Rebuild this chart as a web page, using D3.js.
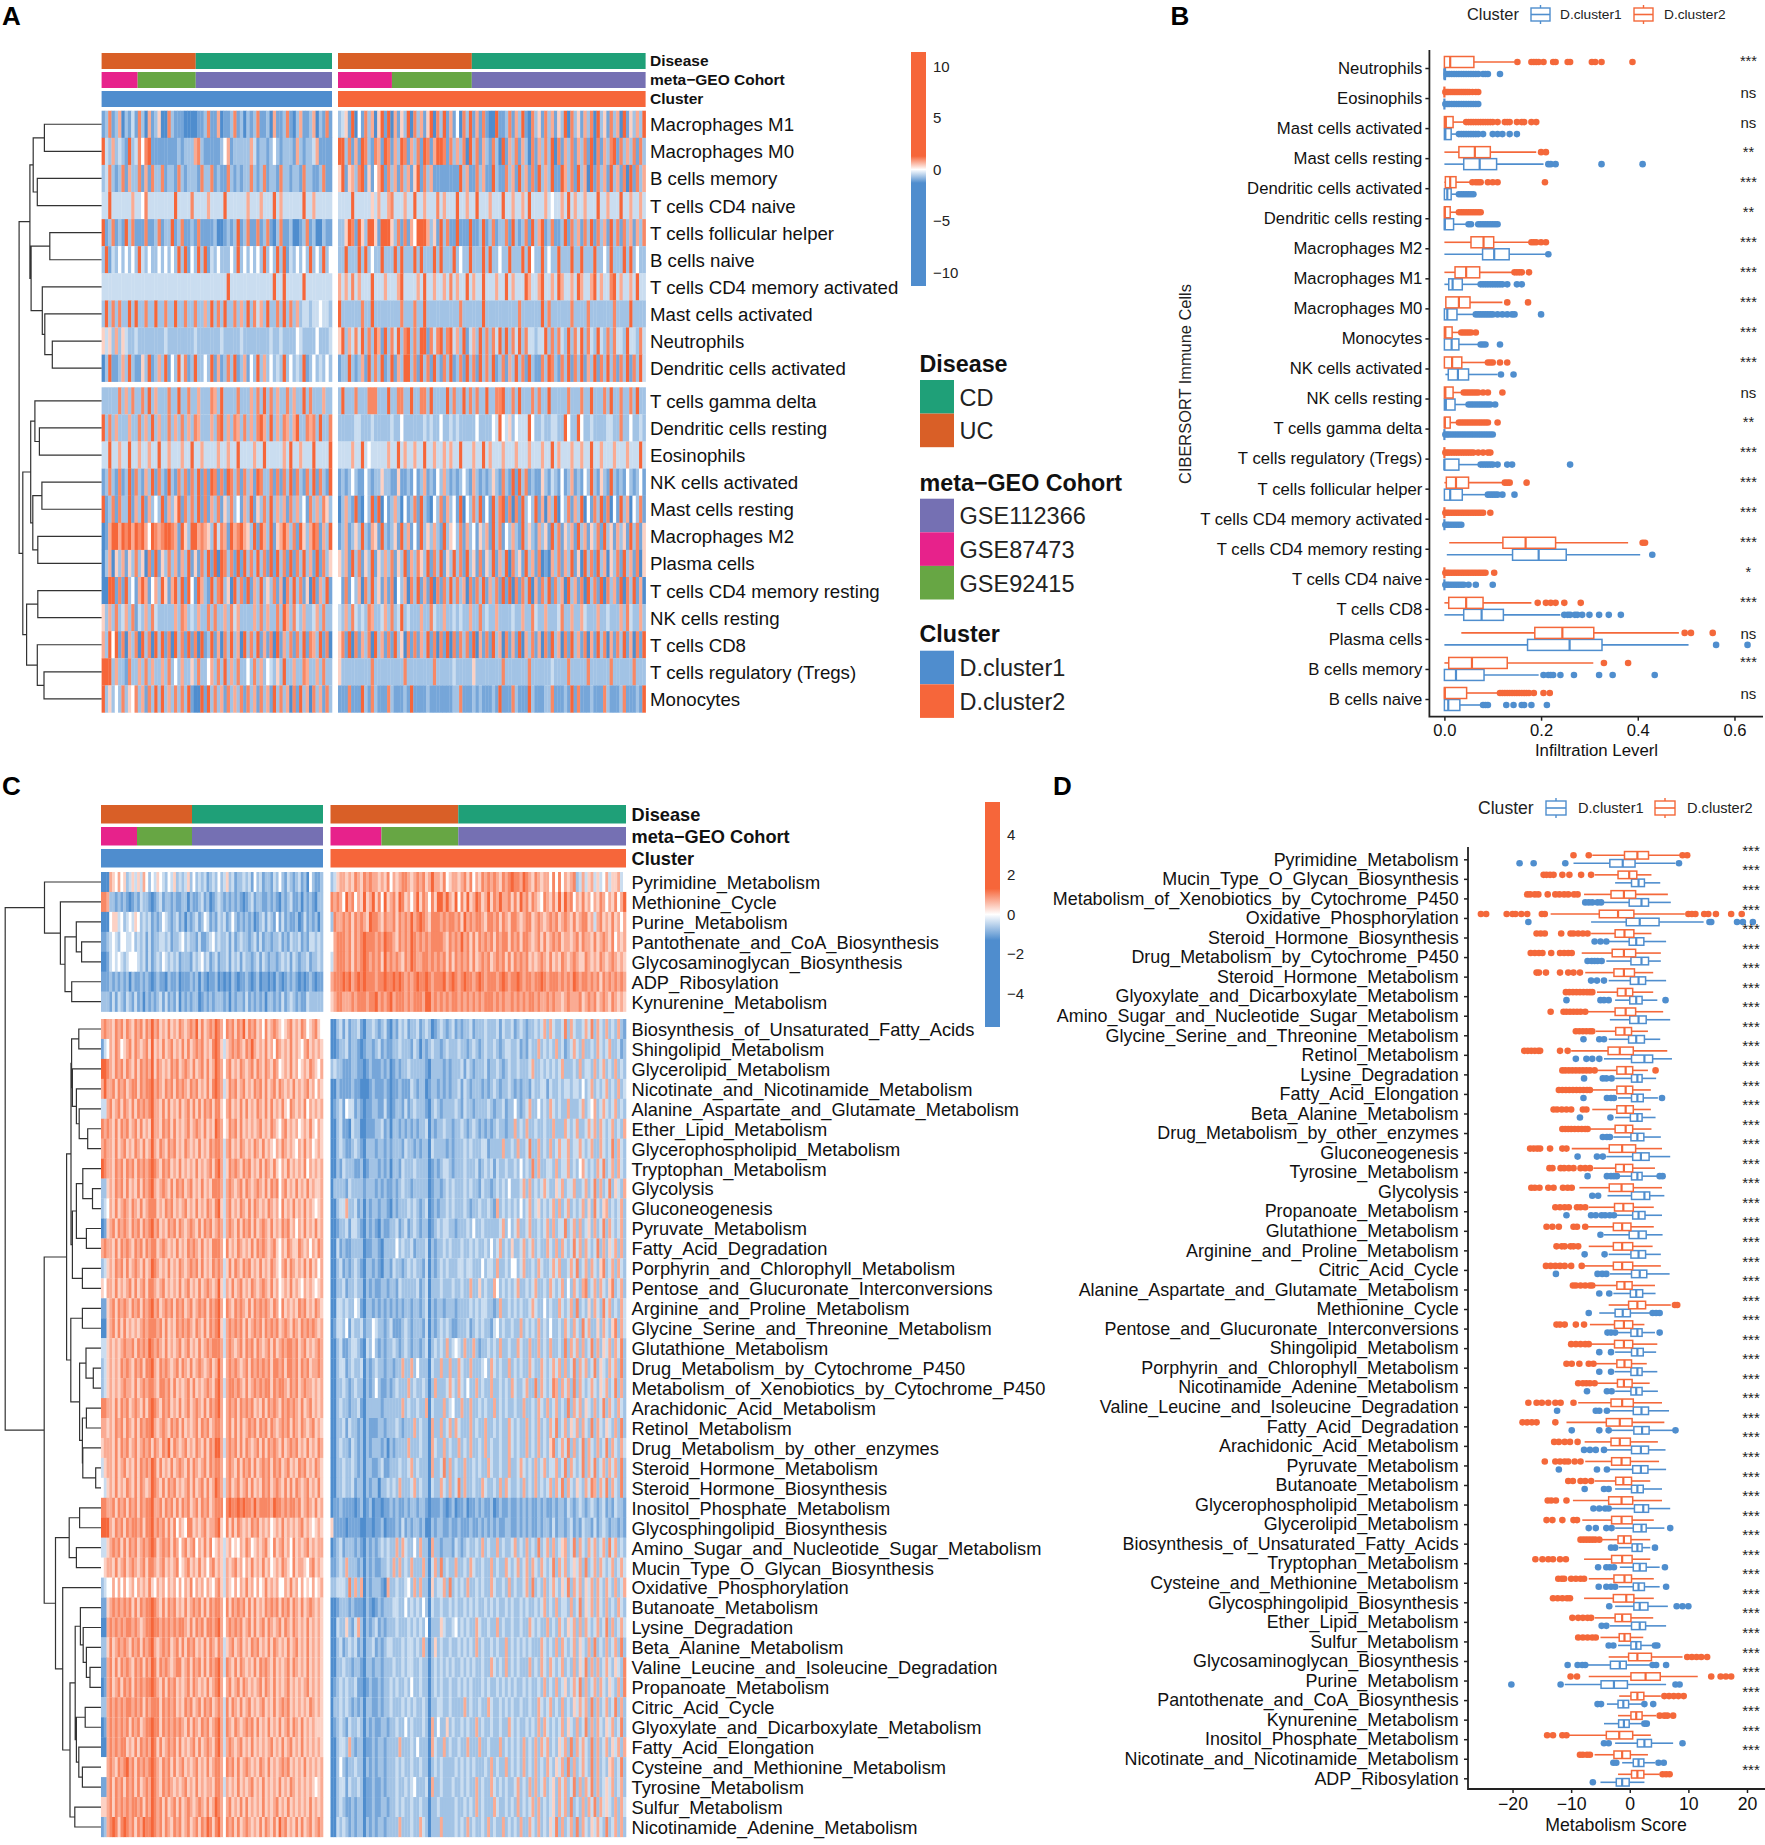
<!DOCTYPE html>
<html><head><meta charset="utf-8">
<script src="https://cdn.jsdelivr.net/npm/d3@7/dist/d3.min.js"></script>
<style>html,body{margin:0;background:#fff}svg{display:block;font-family:"Liberation Sans",Arial,sans-serif}</style>
</head><body><svg id="c" width="1765" height="1845" viewBox="0 0 1765 1845"></svg>
<script>
const COL_BLUE="#4F8DCE", COL_ORANGE="#F6663A";
const levels=[-1,-.78,-.53,-.3,0,.3,.55,.78,1];
const immuneHeatRows=["Macrophages M1","Macrophages M0","B cells memory","T cells CD4 naive","T cells follicular helper","B cells naive","T cells CD4 memory activated","Mast cells activated","Neutrophils","Dendritic cells activated","T cells gamma delta","Dendritic cells resting","Eosinophils","NK cells activated","Mast cells resting","Macrophages M2","Plasma cells","T cells CD4 memory resting","NK cells resting","T cells CD8","T cells regulatory (Tregs)","Monocytes"];
const heatA_L=[
"2382371324283172361183222111122382271223823132382231722382137223713282",
"9437343293485892222222232333783222223572333337423323532333273233472222",
"3483238273382728338233283233328338232283232338323823328332332833223822",
"4494444447445844444444944448444474444944444474447444947444444944744444",
"9238232938222822382339238223282222311232392382282382138223112382311322",
"3924353535394353353535393925393924353335393535353935393924353539353935",
"4444444444444444444444444444444444444494444444444444944944444944444444",
"3938383393933833933833933833833739383933837393847393383938373443445443",
"6463736433433333333433333333433333334333334333333334334333354333353334",
"1392237393226392373925394823933539272383923725393735343935343923534353",
"3333383738338393733383393383373338739333383337383938373383733938333733",
"9383733373383739373383738373873337389373873837389739373873793387839338",
"4494474494474474494474447449447444474474494444744944444749447444944449",
"2383282392832739283293283828392829828298382837298338282839283283928329",
"9238283392739273539273692838392827382638352739263839373728373528373863",
"1279979897989759878998729639978763948729789763929739267973829637982739",
"1371637263836182926383727392628392919838292938393829293829283937292836",
"1199282935279725739627939295297329389361938292739363827183938261927392",
"6373834738243738433333738734373383833738473333738373383973843733473833",
"7395928173819381939281938292819239271839371938392728192738283928739281",
"9993733283373837337383537336383357383937383353837354363933733873373833",
"9363538365837283939373838392119293837283738283728372938371829371837283"];
const heatA_R=[
"3462915283716929172639183726918392725183927282119223827392183628372639183627381936283719263739",
"9938272983287298273982738298279982837381938273283192738273182738391827382738291827389283738283",
"6926738926257928372837269283722222222937228372293228372937282937392297382937192837293728192837",
"4444944444647447844474494474448474449447449444744494474474944447454474947447444944744494474474",
"3369829639962999638282759997362938229222922392382338293238293792382239283728392837293828372738",
"3393339393533933393933393933393933393533933393933533933393953393533933393393339335393339393533",
"7474847444944474447944447494474474847449474494447449474449744794474974474974479474489474474944",
"9333333833933333333833383393333333333833333393333333333833333393833333383333833333338333393333",
"6937484938397293849389383992848938947392473938384939384938443449383843938493843943838443944384",
"2339323729383923927399382938293283923829382938392382739382932283983283928392739283938283928394",
"3933383338883339338833933883933339383393838339338893383933383833933333833383393338393383383933",
"3333344333433333433533333343433533434333335333354954635444953343344339533953343333443383353343",
"4444744945444447449474474494474474744944474494744474447444744474494744474474494474447444744494",
"2323532253233633226223252372325373232353273232363283292938232263243252372325393263293232532352",
"1373292153929152373152382932153827352915383925293892818293539271739153827391528392815293715382",
"2372363932762932362937252936373293653827352637293825373293632736293826372937263829362736293826",
"6372938263926373826392738639283926393829362826392739183629372812173827392619382937163829372816",
"5282537183936272815371839272918283938371828392738292918283917283928371937281938291837291839271",
"4373843438733473834934333733843373343433733834337333343373384337333483373374333733433373843373",
"6829182738193728293618282739281829182838291728293718272917382718293718293728172938172839271829",
"6333333333833333333383333333383333343333363333333383333333833333343333833333833333383333338333",
"2228222932832228322232922223222222233822232322232922283222932223382223292822232228322238222329"];
const heatRowsC=["Pyrimidine_Metabolism","Methionine_Cycle","Purine_Metabolism","Pantothenate_and_CoA_Biosynthesis","Glycosaminoglycan_Biosynthesis","ADP_Ribosylation","Kynurenine_Metabolism","Biosynthesis_of_Unsaturated_Fatty_Acids","Shingolipid_Metabolism","Glycerolipid_Metabolism","Nicotinate_and_Nicotinamide_Metabolism","Alanine_Aspartate_and_Glutamate_Metabolism","Ether_Lipid_Metabolism","Glycerophospholipid_Metabolism","Tryptophan_Metabolism","Glycolysis","Gluconeogenesis","Pyruvate_Metabolism","Fatty_Acid_Degradation","Porphyrin_and_Chlorophyll_Metabolism","Pentose_and_Glucuronate_Interconversions","Arginine_and_Proline_Metabolism","Glycine_Serine_and_Threonine_Metabolism","Glutathione_Metabolism","Drug_Metabolism_by_Cytochrome_P450","Metabolism_of_Xenobiotics_by_Cytochrome_P450","Arachidonic_Acid_Metabolism","Retinol_Metabolism","Drug_Metabolism_by_other_enzymes","Steroid_Hormone_Metabolism","Steroid_Hormone_Biosynthesis","Inositol_Phosphate_Metabolism","Glycosphingolipid_Biosynthesis","Amino_Sugar_and_Nucleotide_Sugar_Metabolism","Mucin_Type_O_Glycan_Biosynthesis","Oxidative_Phosphorylation","Butanoate_Metabolism","Lysine_Degradation","Beta_Alanine_Metabolism","Valine_Leucine_and_Isoleucine_Degradation","Propanoate_Metabolism","Citric_Acid_Cycle","Glyoxylate_and_Dicarboxylate_Metabolism","Fatty_Acid_Elongation","Cysteine_and_Methionine_Metabolism","Tyrosine_Metabolism","Sulfur_Metabolism","Nicotinamide_Adenine_Metabolism"];
const heatC_L=[
"1117657563 4646475354 6543546343 4635343423 4353463423 3434253423 3243532432 3423153223",
"8873323232 1232433212 3423323223 3132234231 2343232323 2123423322 3232132342 2313232133",
"1115664534 5465343423 2354323423 1323423542 3243423532 3232312342 4325242322 3124232313",
"2234543554 4534342423 3443423345 3433242234 5343342423 4332342423 3233423243 3423244343",
"1124545434 5554342423 4354343423 3324345342 3423342434 2433234243 2332343424 3233423343",
"2223232323 1322323212 3221322312 2232313212 2312121321 2232123122 1213212323 2121232122",
"3332424324 3242313232 3424232413 2323312323 2333231323 3242323231 3323242343 2322433333",
"7877687868 7687868797 8676867687 6787968678 7987587868 7968786758 6787656786 7687567865",
"2457687567 8687678696 7686786768 6867878676 8986467878 7687976768 6758767686 7657867676",
"9987687868 7686878796 8767687867 8768678686 7987578676 8767868768 7687567686 7567687657",
"7977868786 7886878897 8768786878 7687867686 8987468786 7867687868 6786876768 6767867576",
"4478678687 6868787897 7686867686 7868686878 6886578676 8686768768 6867686587 6768576767",
"8787686878 6786867697 7687868676 7867876867 6987568786 8676767867 6876578676 7567686576",
"7877686786 7687686797 6876878676 8767686768 7887478676 8767687686 7657687676 5768675676",
"9877687868 7868787898 7687867686 7676867678 6897468787 6878676868 7686576867 6768576767",
"3367687868 6768687897 6787686878 6786768676 8887478767 8687678768 6878578676 8676867667",
"3457686787 6876867888 6768786767 8676867687 6896478676 8768687676 8767586768 6768676567",
"1267868787 6878687897 8676878687 6787686878 6787478768 6878686787 6867687867 5768676867",
"7877686878 7687868788 6787676867 6878768676 8887586768 7676868787 6786576876 6876757687",
"3467687868 6787686798 7676867687 6787868676 8787468687 6878676867 6876578687 6768686757",
"6577686767 8686786887 6786767686 7867686787 6796476867 8676876787 6867567686 7657676567",
"2267868787 6878687897 8678786878 6786787868 7897587687 8768687878 7687586767 6878676876",
"1167868686 7676787888 7868676878 7876876868 7896478787 8686787868 7878678768 7687878767",
"4467676787 7868787987 8768676786 7867686787 8887478767 8687868767 8686787887 8678676787",
"3467676878 7687868897 6878767868 7686787678 6797578787 6786878787 8688786887 8687867787",
"3467676787 7686787887 6887868676 7868676787 6897478878 7686787878 8687887687 8678776767",
"8877686878 6787686898 7687867686 7867876868 7897578786 8787867686 8787687878 7686786767",
"7767687868 7686878897 6787687868 6767868786 7887578686 8678786878 6876787868 7687678676",
"6777686878 6786787868 7687968767 8676876868 7997478786 8687678686 8787686787 8676867687",
"4677686786 7686878798 6867686787 6868767868 7887578768 6878686787 8687867867 6878676876",
"5467686768 7686876798 7686878676 7868678686 7987478678 6786867687 8678768686 8767867686",
"8877868786 8786878897 7868786868 7867868786 7888589889 8988797888 8798878788 7867876867",
"9997687868 7887868897 8786868576 5886767867 7896586868 7676878676 7567686767 6786765676",
"4467878686 8786787898 6787868757 8678576868 5676467565 7687567678 6586786758 6767867677",
"5677686786 7876786887 6786767856 7867686757 8676476786 7576867686 7567687658 6776578676",
"3455757575 6757676865 7675767575 7685767576 5786476575 7686757568 6767557686 7575657567",
"2267878787 8686878898 7686878676 8678786868 7887586878 7868686768 7878687868 7686787676",
"1178787878 8787678898 8787878788 7686878688 7897578787 8678686786 8767868768 7676867676",
"3368678787 6878687897 6787867868 6878676868 7687467867 8676878676 8687676867 8676867676",
"2278686878 7687868798 6878767886 7868786868 7897487686 8767686878 7686767868 7676867676",
"1278678687 8687878898 7686878676 7868767686 7897578678 6876767868 7686767867 6767867676",
"3378787878 8787868788 8687878676 8786786878 6787486876 8678676786 7686787867 6767687676",
"1278787878 6878678898 8687878787 6868768786 7897487687 6787868676 8676867868 7686767666",
"1178787886 7686878798 6867878686 7678686787 6897478767 8676867676 7867686786 7686767676",
"5578768789 7868787898 7687868678 6767867686 7887587868 6787676876 8676787867 6768676767",
"2278687868 7868678798 7687876767 8676867677 6887476768 6767867686 7676867687 6767676567",
"6678687878 7887868798 7868678686 7876787686 7987578676 8686767686 7678676867 6767686767",
"2378986898 7868798898 7868768786 7867868798 6897587868 6787676868 7686978676 8686786787"];
const heatC_R=[
"3467767687 6878776768 5767887678 7867977685 6776786857 6878787687 8988798768 7677585857 6783474674 6457466745",
"8787597857 6967968596 7869867579 6875869979 7695869679 8679687977 8686978687 6587686969 7857686757 6875768579",
"3877878687 8769887687 7868787978 9876888787 8878697878 8768878687 6887678867 8767878678 7686788674 7867686757",
"5788878687 8988878798 8768787987 8787888876 8787978686 8787868788 6878688767 8686787867 7678687768 6787685767",
"4788878687 8987878697 8787687987 7887878786 8687878686 7878678786 8687878676 7876867687 6787668767 6876787676",
"7888989789 8988878898 8989878789 8898788897 8987898878 9878887898 7889878878 8987888787 8798788787 8687878787",
"6788777878 8878897878 9788878788 8799787878 7887878787 8788878787 7878787887 8778787767 8777867878 6787687676",
"1134242334 2133432342 1324342334 2343123432 3423233423 3343334243 3423432334 3473743348 3743347483 7437343732",
"1123342332 1233234232 2334333243 1323433234 3334332343 2343343234 4334232433 7343437342 3474373343 7434733423",
"3433222332 2123222323 1232334333 3321333323 2333424323 3342334323 4334333473 3434343473 3343734437 3473437343",
"1132222322 1112322232 1223222432 3312332323 2334243233 3232343233 4323233243 3442433434 4344353473 4347343734",
"1234254423 2122332242 1233242343 3321343233 3343243323 3334323342 3353234733 5343743433 7333473457 3474347343",
"1134221433 1122233423 1332323232 3341323343 3233432343 2323234332 3373437334 3343373337 4347334747 3743473437",
"1134322343 2133323323 2333243323 2331433332 3233343433 3442333373 3437334833 7343734744 7344743473 3743483743",
"1132433322 3123332323 1332433343 3331232344 3233343334 2343424334 3343534383 7334437344 7343574343 7483473743",
"1333324333 3233323232 2323433233 3331233234 3433343433 2433234343 5333473734 3474336473 4473347348 3734836437",
"1134473342 3132332332 1323334343 2341232334 3433343233 4334327343 4343534734 6343473734 7343473638 4367343473",
"1123342443 2132321322 3342342343 2331234344 3323334353 3433333473 5347334733 4347373448 3473734637 3483743473",
"1142322333 3122332133 3353433423 3341323343 4333433434 3343534734 3633473473 4337437374 3484737434 8373647373",
"1134232343 2133232133 2433234343 3241323434 3334434433 3534437334 3553473343 7433474733 4748347374 3683473743",
"1133423343 3132322332 3324333334 2341333433 3433433733 6343375343 4347334347 3343743473 5374378347 3743683473",
"1144343354 2133232323 2323233233 2341323323 3323333434 3443323733 4343433474 3353433743 4738343637 4384734374",
"1244352433 4233543323 4222343233 3241323434 3223334234 3433245343 3433734343 7343533437 4374384733 6374368374",
"1134223443 2143532323 3432343233 2341343437 3454373373 2334343733 4337433733 7343733438 3747373483 7364737483",
"1134423433 4132343323 3233733735 3331433733 7337433733 3453743433 7343433743 3743474737 3483747348 3643747383",
"1133432343 3132353223 2343337343 3431373334 7437435337 3433733434 3743347338 3743487374 7383743474 3647348373",
"1134332334 2133333233 3333734334 3371433373 4533733733 4343373434 3343373343 7437347343 8374736437 3483743743",
"1133424332 3132223323 3343233373 4331733734 7374333734 3373343433 7434337343 7343748347 3647374383 7436437383",
"1134332432 3132333231 3233337333 4331743373 4337343733 4373433433 7434337343 7343683474 8373483743 7348374374",
"1133433432 3133223422 3334334734 3331733483 7343373343 4337433433 7334743437 3473447348 3743483748 3473747383",
"1133433423 3132331334 3437333473 4331433743 7348373343 3743343737 4334373437 3434737483 7436437487 3748374383",
"1223222212 3123122122 3232232332 3321222321 2312231223 2322312322 3223232322 3232232332 4323432343 2342324332",
"6222212222 1122122312 2232423233 2311323322 3223222322 3232323223 3223232322 3233242332 3423243324 2343233232",
"1234233323 2132323434 3373743353 7331733233 3243234334 3734337343 3473437343 8347373467 3483743747 3473847343",
"2234373332 3132322334 3737343733 3731473834 3373343743 3433734337 4347347374 3743483747 3464738347 3743473474",
"3344438373 7132333217 3343345373 7331634473 8343437334 3433743343 7343347383 4373474364 8374736473 7437437347",
"1123332322 2132123233 3443353434 3531433433 4343343434 3343434334 3433434334 3473437344 3734836473 7437343743",
"1143363247 3132342323 3343334343 4351333643 3453434337 4334337343 3433433743 4337343743 6473737434 7348373474",
"1134234342 3133423234 4333434434 3731363433 4334343437 3433434337 3434343433 3743437374 3473643738 3437347383",
"1133433233 2133233233 3433434433 4331343434 3433434343 3433743437 3434333734 3743743473 4373648373 7347436438",
"1234343342 2123223233 4343343533 4331343433 4334343433 3434334343 4343343433 4373437346 3474837347 3743643738",
"1334343232 3133223233 4333434343 3431334433 4333373433 4337433434 3433433433 7434734373 4364747383 7347348373",
"1234324334 3132322332 3343353433 3431735336 3433434337 3433433433 7434334343 7374343473 6437348373 7436473483",
"1134437323 3122323323 3337333435 3331743373 4334337333 7334333734 3434373437 3747343647 3837474383 7347364737",
"1135323343 3132323323 3343433433 4331343433 3343434343 3343734337 3434373437 3437436473 8373474383 7343673483",
"1134424334 3122322323 3343343453 3341733433 3433434337 3433743434 3347343737 3473463747 3483737483 7346473473",
"1134322323 3122322332 3343433433 4331334333 3343343437 3433374334 3437343473 7343463747 3834373748 3746437374",
"1143432323 3132323323 3337333433 7431333733 3343437343 3437343373 4343733743 7343648373 4738374364 7438347373"];
const annoA={left:230,right:308,
 disease:[[["UC",94],["CD",136]],[["UC",134],["CD",174]]],
 cohort:[[["GSE87473",36],["GSE92415",58],["GSE112366",136]],[["GSE87473",54],["GSE92415",80],["GSE112366",174]]]};
const annoC={left:222,right:296,
 disease:[[["UC",91],["CD",131]],[["UC",128],["CD",168]]],
 cohort:[[["GSE87473",36],["GSE92415",55],["GSE112366",131]],[["GSE87473",51],["GSE92415",77],["GSE112366",168]]]};
const treeA=[82.5,[71.7,[68.4,[57.2,0,1],[64.3,2,3]],[70.5,[51.8,4,5],[59.3,6,[56.8,7,[49.3,8,9]]]]],
 [78.8,[70.9,[66.7,10,[62.2,11,12]],[68.8,[59.7,13,14],[63.8,15,16]]],[75,[63.8,17,18],[64.3,19,[57.6,20,21]]]]];
const treeC=[95.8,[56.5,0,[40.6,1,[36,[24.7,2,[19.4,3,4]],[29.3,5,6]]]],
 [56.8,[34.4,[30,[29.4,[22.2,7,8],[28.6,9,[24.6,10,[21.8,11,[13.3,12,13]]]]],[28.6,[24.6,[18.2,14,[8.5,15,16]],[14.6,17,18]],[18.6,19,20]]],
 [30.2,[18.6,21,22],[21.4,[15,23,[7.7,24,25]],[18.6,[14.6,26,27],[18.2,28,[5.3,29,30]]]]]],
 [45.5,[31.8,[21.4,31,32],[24.6,33,34]],[38.3,35,[31,[25.8,[20.6,36,[17.8,37,[14.6,38,[11,39,40]]]],[24.6,[15.8,41,42],[22.2,43,[18.6,44,45]]]],[26.2,46,47]]]]]];
const bNames=["Neutrophils","Eosinophils","Mast cells activated","Mast cells resting","Dendritic cells activated","Dendritic cells resting","Macrophages M2","Macrophages M1","Macrophages M0","Monocytes","NK cells activated","NK cells resting","T cells gamma delta","T cells regulatory (Tregs)","T cells follicular helper","T cells CD4 memory activated","T cells CD4 memory resting","T cells CD4 naive","T cells CD8","Plasma cells","B cells memory","B cells naive"];
const bSig=["***","ns","ns","**","***","**","***","***","***","***","***","ns","**","***","***","***","***","*","***","ns","***","ns"];
const bOrange=[
[0,.012,.061,0,.145,[.151,.18,.185,.19,.195,.205,.225,.23,.255,.26,.305,.312,.325,.389]],
[0,0,0,0,0,[.002,.005,.008,.012,.016,.02,.024,.028,.032,.036,.04,.044,.048,.052,.058,.065,.07]],
[0,.003,.018,0,.04,[.045,.05,.055,.06,.065,.07,.075,.08,.085,.09,.095,.1,.11,.125,.13,.135,.15,.16,.165,.18,.19]],
[.03,.063,.095,0,.19,[.2,.21]],
[.002,.012,.024,0,.055,[.058,.065,.07,.075,.09,.1,.11,.208]],
[0,.001,.012,0,.025,[.03,.035,.04,.045,.05,.055,.06,.065,.07,.075]],
[.055,.081,.102,0,.175,[.18,.185,.19,.2,.21]],
[.022,.045,.073,0,.14,[.145,.15,.155,.16,.175]],
[.003,.03,.053,.002,.12,[.13,.173]],
[0,.002,.016,0,.035,[.035,.04,.045,.05,.055,.065]],
[0,.016,.036,0,.085,[.09,.095,.1,.115,.13]],
[0,.002,.018,0,.04,[.04,.045,.05,.055,.06,.065,.07,.08,.09,.12]],
[0,.001,.012,0,.025,[.03,.035,.04,.045,.05,.055,.06,.065,.07,.075,.08,.085,.09,.11]],
[0,0,0,0,0,[.002,.006,.01,.015,.02,.025,.03,.035,.04,.045,.05,.055,.06,.07,.08,.09,.095]],
[.004,.024,.05,0,.12,[.125,.13,.135,.17]],
[0,0,0,0,0,[.002,.006,.01,.015,.02,.025,.03,.035,.04,.045,.05,.055,.06,.065,.07,.075,.08,.095]],
[.121,.168,.23,.01,.38,[.41,.415]],
[0,0,0,0,0,[.002,.006,.01,.015,.02,.025,.03,.035,.04,.045,.05,.055,.06,.065,.07,.075,.08,.085,.103]],
[.009,.045,.08,0,.18,[.193,.21,.22,.23,.248,.282]],
[.187,.244,.309,.035,.485,[.497,.51,.555]],
[.009,.057,.13,0,.308,[.33,.38]],
[0,.001,.046,0,.11,[.115,.12,.125,.13,.135,.14,.145,.15,.155,.16,.165,.17,.175,.185,.205,.218]]];
const bBlue=[
[0,0,.002,0,.004,[.005,.01,.015,.02,.025,.03,.035,.04,.045,.05,.055,.06,.065,.07,.08,.085,.09,.115]],
[0,0,0,0,0,[.002,.006,.01,.015,.02,.025,.03,.035,.04,.045,.05,.055,.06,.065,.07]],
[0,.002,.014,0,.03,[.03,.035,.04,.045,.05,.055,.06,.065,.07,.08,.1,.11,.12,.135,.15]],
[.04,.073,.108,0,.205,[.215,.22,.23,.325,.41]],
[0,.006,.014,0,.03,[.03,.035,.04,.045,.05,.055,.06]],
[0,.001,.019,0,.045,[.05,.055,.07,.075,.08,.085,.09,.095,.1,.105,.11]],
[.079,.103,.134,0,.215,[.215]],
[.009,.017,.037,0,.07,[.075,.08,.085,.09,.095,.1,.105,.11,.115,.12,.13,.15,.16]],
[0,.006,.026,0,.06,[.065,.07,.075,.08,.085,.09,.095,.1,.11,.12,.13,.14,.145,.2]],
[0,.015,.03,0,.07,[.075,.08,.085,.115]],
[.008,.028,.05,.002,.11,[.117,.143]],
[0,.003,.022,0,.05,[.05,.055,.06,.065,.07,.075,.08,.085,.09,.095,.105]],
[0,0,0,0,0,[.002,.006,.01,.015,.02,.025,.03,.035,.04,.045,.05,.055,.06,.065,.07,.075,.08,.085,.09,.095,.1]],
[0,0,.03,0,.07,[.075,.08,.085,.09,.095,.1,.11,.13,.14,.26]],
[0,.012,.037,0,.085,[.09,.095,.1,.105,.11,.12,.145]],
[0,0,0,0,0,[.002,.006,.01,.015,.02,.025,.03,.035]],
[.141,.195,.252,.005,.405,[.43]],
[0,0,0,0,0,[.002,.006,.01,.015,.02,.025,.03,.035,.04,.05,.065,.1]],
[.04,.077,.122,0,.24,[.248,.255,.26,.27,.275,.285,.3,.32,.34,.365]],
[.172,.259,.326,0,.505,[.562,.627]],
[0,.024,.082,0,.195,[.205,.215,.22,.225,.24,.268,.32,.348,.435]],
[0,.008,.032,0,.075,[.08,.085,.09,.128,.143,.16,.165,.18,.212]]];
const dNames=["Pyrimidine_Metabolism","Mucin_Type_O_Glycan_Biosynthesis","Metabolism_of_Xenobiotics_by_Cytochrome_P450","Oxidative_Phosphorylation","Steroid_Hormone_Biosynthesis","Drug_Metabolism_by_Cytochrome_P450","Steroid_Hormone_Metabolism","Glyoxylate_and_Dicarboxylate_Metabolism","Amino_Sugar_and_Nucleotide_Sugar_Metabolism","Glycine_Serine_and_Threonine_Metabolism","Retinol_Metabolism","Lysine_Degradation","Fatty_Acid_Elongation","Beta_Alanine_Metabolism","Drug_Metabolism_by_other_enzymes","Gluconeogenesis","Tyrosine_Metabolism","Glycolysis","Propanoate_Metabolism","Glutathione_Metabolism","Arginine_and_Proline_Metabolism","Citric_Acid_Cycle","Alanine_Aspartate_and_Glutamate_Metabolism","Methionine_Cycle","Pentose_and_Glucuronate_Interconversions","Shingolipid_Metabolism","Porphyrin_and_Chlorophyll_Metabolism","Nicotinamide_Adenine_Metabolism","Valine_Leucine_and_Isoleucine_Degradation","Fatty_Acid_Degradation","Arachidonic_Acid_Metabolism","Pyruvate_Metabolism","Butanoate_Metabolism","Glycerophospholipid_Metabolism","Glycerolipid_Metabolism","Biosynthesis_of_Unsaturated_Fatty_Acids","Tryptophan_Metabolism","Cysteine_and_Methionine_Metabolism","Glycosphingolipid_Biosynthesis","Ether_Lipid_Metabolism","Sulfur_Metabolism","Glycosaminoglycan_Biosynthesis","Purine_Metabolism","Pantothenate_and_CoA_Biosynthesis","Kynurenine_Metabolism","Inositol_Phosphate_Metabolism","Nicotinate_and_Nicotinamide_Metabolism","ADP_Ribosylation"];
const dOrange=[
[-.9,1.3,3.2,-6.4,8.6,[-9.6,-7,9,9.8]],
[-2,-.1,1.2,-6,3.7,[-14.7,-14.2,-13.6,-13,-11.5,-10.3,-8.3,-6.6]],
[-3.2,-1,1,-7.8,6.5,[-17.5,-17,-16.2,-15.6,-14,-12.7,-12,-11.2,-10.5,-9.5,-8.9]],
[-5.2,-2,.7,-13.5,9.4,[-25.4,-24.5,-21,-20,-19.5,-18.5,-17.5,-15,-14.5,10,10.6,11.2,12.7,13.4,14.7,17.3,19.1]],
[-2.5,-.9,.7,-6.6,3.7,[-15.9,-15.2,-14.5,-11.7,-10.1,-9.6,-8.8,-8,-7.2]],
[-3,-1,1,-8.2,5.3,[-16.9,-16.2,-15.5,-14.9,-13.4,-11.9,-11.2,-10.5,-9.9]],
[-2.7,-1,.8,-7.6,4,[-15.9,-15.5,-14.3,-11.9,-10.5,-9.6,-8.5]],
[-2.1,-.7,.5,-5.6,4,[-10.9,-10.3,-9.7,-9.1,-8.5,-7.9,-7.3,-6.8,-6.4]],
[-2.5,-.7,1,-7.2,5.7,[-13.5,-11.3,-10.8,-10.2,-9.6,-9,-8.4,-7.6]],
[-2.4,-.9,.3,-5.8,3.1,[-9.2,-8.6,-8,-7.4,-6.8,-6.4]],
[-3.7,-1.7,.6,-10,6.4,[-18,-17.4,-16.8,-16.2,-15.6,-15.3,-11.9,-10.6]],
[-2.2,-.7,.5,-5.8,3.1,[-11.5,-11,-10.4,-9.8,-9.2,-8.6,-8,-7.4,-6.8,-6,4.4]],
[-2.2,-.7,.5,-6.4,3.6,[-12.1,-11.5,-10.9,-10.3,-9.7,-9.1,-8.5,-7.9,-7.3,-6.8]],
[-2.2,-.7,.6,-6.4,3.6,[-13,-12.4,-11.6,-10.8,-10,-8,-7.4]],
[-2.5,-.7,.5,-6.8,3.7,[-11.5,-11,-10.5,-10,-9.4,-8.8,-8.2,-7.6,-7.2]],
[-3.5,-1.3,1,-9.9,5.5,[-17,-16.4,-15.8,-15.3,-13.6,-11.5,-10.8]],
[-2.4,-1,.5,-6.2,4.3,[-13.7,-13.2,-11.8,-11.2,-10.4,-9.6,-8.4,-7.6,-6.8]],
[-3.5,-1.4,.6,-8.6,5.5,[-16.8,-16.2,-15.4,-13.9,-13,-11.4,-10.6,-9.9]],
[-2.6,-1.1,.6,-7,4.1,[-12.7,-11.9,-11.1,-10.4,-9,-8.4,-7.6]],
[-2.8,-1.3,.2,-7.2,4.1,[-14.2,-13.2,-12.1,-9.6,-9,-7.6]],
[-2.8,-1.3,.5,-7,3.9,[-12.5,-11.6,-11.1,-10.1,-9.6,-8.8]],
[-2.8,-1.3,.5,-7.8,5.3,[-14.3,-13.5,-12.7,-11.9,-11.1,-10,-8.2]],
[-2.2,-.9,.4,-6,4.3,[-9.7,-9.2,-8.4,-7.6,-6.8,-6.4]],
[-.2,1.3,2.7,-3.6,7,[7.7,8.1]],
[-2.6,-1,.5,-6.8,2.5,[-12.5,-11.9,-11.1,-9.2,-7.8]],
[-2.6,-1,.5,-6.8,4.7,[-10,-9.2,-8.4,-7.6,-7]],
[-2.2,-.9,.3,-6,2.9,[-10.8,-9.9,-8.6,-7,-6.2]],
[-2.1,-1,.4,-5.6,3.4,[-8.8,-8,-7.4,-6.8,-6]],
[-3.2,-1.3,.6,-8.8,5.5,[-17.3,-15.9,-15,-13.9,-12.7,-11.8,-9.6]],
[-4,-1.7,.4,-10.8,5.9,[-18.3,-17.5,-16.7,-15.9,-12.7]],
[-3.2,-1.7,.1,-7.7,4.8,[-12.9,-12.1,-11.1,-10.2,-8.9]],
[-3.1,-1.4,.1,-7.6,5,[-14.5,-12.7,-11.9,-11.1,-10.5,-9.4,-8.4]],
[-2.4,-1.1,.3,-6,3.5,[-10.5,-9.7,-8.4,-7.6,-6.6]],
[-3.6,-1.4,.5,-9.7,5.5,[-14,-13.4,-12.6,-10.8]],
[-3.1,-1.4,.4,-8.1,4.1,[-14.2,-13.2,-11.5,-9.6,-9]],
[-2,-1,.2,-5,3.5,[-8.4,-7.9,-7.4,-6.9,-6.4,-5.9,-5.2]],
[-3.1,-1.3,.4,-7.8,3.5,[-16.1,-14.9,-13.9,-13.1,-11.9,-10.9]],
[-2.7,-.9,.3,-7,4.1,[-12.2,-11.6,-11.2,-10,-9.2,-8.4,-7.8]],
[-2.8,-.6,.7,-7.8,4.1,[-13.1,-12.3,-11.5,-10.7,-10.2]],
[-2.5,-1.3,.2,-6,4,[-9.8,-8.8,-8,-7.2,-6.6]],
[-1.8,-.9,.1,-5,2.3,[-8.8,-8,-7.2,-6.4,-5.8]],
[-.2,1.3,3.7,-3.6,9,[9.8,10.6,11.4,12.2,13.2]],
[.2,2.7,5.2,-7,11.6,[-10.1,-9,13.9,15.5,16.4,17.3]],
[.2,1.3,2.4,-1.8,5.3,[5.9,6.7,7.5,8.3,9.2]],
[.2,1.1,2.1,-2,4.5,[5.1,5.9,6.4,7.4]],
[-4,-1.8,.5,-10.4,3.6,[-14.1,-13.1,-11.5,-10.8]],
[-2.7,-1.3,.1,-6,3.1,[-8.5,-8,-7.3,-6.8]],
[.3,1.3,2.4,-2,5.1,[5.6,6.2,6.8]]];
const dBlue=[
[-3.4,-1.2,.9,-9.6,7.8,[-18.8,-16.4,-11,8.4]],
[.3,1.5,2.5,-2.5,5.2,[]],
[-.1,2,3.2,-4.4,7,[-7.6,-7,-6.4,-5.5,-4.9]],
[-.6,1.7,5,-6.6,12.6,[-17.3,13.6,13.9,18.3,19.3,21]],
[-.1,1.1,2.4,-3.6,6.2,[-6,-5,-4]],
[.2,2,3.2,-4,5.3,[-7.2,-6.5,-6,-5.5,-4.8]],
[.1,1.5,2.7,-3.6,6.2,[-6.6,-5.6,-4.4]],
[0,1.1,2.1,-2.5,4.7,[-10.8,-5,-4.4,-3.6,6.1]],
[0,1.5,2.8,-3.4,6.9,[]],
[-.2,1.1,2.5,-3.6,5.2,[-7.9,-5.2,-4.4]],
[.3,2.5,3.9,-4.4,7.2,[-9.2,-7.4,-6.4,-5.2]],
[.3,1.3,2.1,-2.5,4.5,[-7.8,-4.6,-4,-3.1]],
[.3,1.3,2.3,-2,4.8,[-7.9,-3.9,-3.2,-2.7,5.5]],
[.1,1.3,2.1,-2.5,4.4,[-8.5,-3.3]],
[.2,1.3,2.4,-2.8,5.3,[-4.6,-3.9,-3.4]],
[.5,1.9,3.3,-4,6.9,[-8.9,-5.6,-4.6]],
[.3,1.3,2.1,-1.7,4.7,[-7.2,-3.9,-3.2,-2.7,-2.2,5.1,5.6]],
[.3,2.5,3.4,-3.8,5.9,[-6.4,-5.4]],
[.5,1.5,2.6,-2.5,5.5,[-10.8,-6.6,-5.8,-4.8,-4.2,-3.4,-2.7]],
[-.1,1.5,2.8,-4.4,5.6,[-5]],
[.2,1.5,2.7,-3.6,5.3,[-7.7,-4.3]],
[.3,1.7,2.9,-3.4,6.8,[-12.6,-5.5,-4.7,-4]],
[.1,1.1,2.2,-2.8,4.4,[-5.2,-3.5]],
[-2.5,-1.2,.1,-5.2,3.5,[-7,3.9,4.5,5.1]],
[.2,1.3,2.1,-2,4.3,[-3.8,-3.2,-2.5,5.1]],
[.3,1.3,2.3,-2.5,4.5,[-5.2,-3.2]],
[.2,1.3,2.1,-2.6,4.7,[-5.2,-3.2]],
[.2,1.1,2.1,-2.5,4.8,[-7.3,-3.9,-3.1]],
[.6,2,3.2,-3.4,6.7,[-12.4,-5.8,-5.2,-3.9]],
[.7,2.1,3.3,-3.2,7.8,[-9.9,-5.2,-3.6,7.8]],
[.3,1.9,3.2,-3.9,6.1,[-7.8,-6.8,-5.8,-4.4]],
[.5,1.9,3.1,-3.4,6.2,[-12.1,-5.6,-3.9]],
[.3,1.3,2.3,-2.5,5.5,[-7.7,-4.4,-3.6]],
[.8,2.3,3.2,-3.2,6.9,[-6.2,-5.2,-4.2,-3.6]],
[.6,2,2.8,-2.5,5.9,[-7,-5.8,-4,-3.1,6.9]],
[.4,1.3,2.1,-1.9,3.5,[-3.2,-2.5,4.3]],
[.6,1.7,2.8,-1.7,5.1,[-5.4,-4,-3.4,-2.7,6]],
[.6,1.5,2.5,-1.9,5.1,[-5.3,-4,-3.2,-2.5,6.2]],
[.7,1.7,3.1,-2.5,6.5,[-3.5,8,9,10]],
[.3,1.7,2.7,-3.4,6.2,[-4.8,-4]],
[.2,1.1,1.9,-2,3.9,[-3.6,-2.8,4.3,4.7]],
[-3.3,-1.7,-.6,-7.2,3.5,[-10.6,-8.9,-8.1,-7.6,3.9,4.5,6.2]],
[-4.9,-2.7,-.4,-11.1,6.2,[-20.2,-11.8,7.8,8.5]],
[-2,-1.1,-.2,-3.9,2.7,[-5.5,-4.9,2.5,4]],
[-1.9,-1,-.1,-4.4,2.1,[2.5,2.9]],
[1.3,2.5,3.7,-2.5,7.4,[-4.4,-3.6,9]],
[.6,1.5,2.4,-1.3,4.3,[-2.8,-2.3,4.9,5.8]],
[-2.3,-1.3,-.1,-5,2.5,[-6.3]]];

const svg=d3.select("#c");
svg.append("rect").attr("width",1765).attr("height",1845).attr("fill","#fff");
const txt=(x,y,s,size,o={})=>svg.append("text").attr("x",x).attr("y",y).attr("font-size",size).attr("font-weight",o.bold?"bold":null).attr("text-anchor",o.anchor||"start").attr("dy",o.dy==null?".35em":o.dy).attr("fill",o.fill||"#111").attr("transform",o.rot?`rotate(${o.rot} ${x} ${y})`:null).text(s);
[["A",2,15.5],["B",1170.5,15.5],["C",2,786],["D",1053,786]].forEach(p=>txt(p[1],p[2],p[0],26,{bold:1,fill:"#000"}));

const annoColor={UC:"#D95F27",CD:"#1FA078",GSE87473:"#E7228B",GSE92415:"#67A644",GSE112366:"#7570B3"};

function heatmap(cfg){
  const g=svg.append("g");
  const color=d3.scaleLinear().domain([-1,0,1]).range([COL_BLUE,"#FFFFFF",COL_ORANGE]).clamp(true);
  const xL=d3.scaleLinear().domain([0,cfg.anno.left]).range(cfg.xL);
  const xR=d3.scaleLinear().domain([0,cfg.anno.right]).range(cfg.xR);
  const rowY=i=>i<cfg.split?cfg.top1+i*cfg.rowH:cfg.top2+(i-cfg.split)*cfg.rowH;
  [[xL,cfg.L,cfg.anno.left],[xR,cfg.R,cfg.anno.right]].forEach(([x,rows,n])=>{
    rows.forEach((raw,i)=>{
      const s=raw.replace(/ /g,""), w=n/s.length;
      g.append("g").selectAll("rect").data(s.split("")).join("rect")
        .attr("x",(d,j)=>x(j*w)).attr("width",(d,j)=>x((j+1)*w)-x(j*w)+.3).attr("y",rowY(i)).attr("height",cfg.rowH+.2)
        .attr("fill",d=>color(levels[+d-1]));
    });
  });
  const stack=(x,segs,y,h)=>{let c=0;segs.forEach(([k,n])=>{g.append("rect").attr("x",x(c)).attr("width",x(c+n)-x(c)).attr("y",y).attr("height",h).attr("fill",annoColor[k]);c+=n;});};
  stack(xL,cfg.anno.disease[0],cfg.annoY[0],cfg.annoH);stack(xR,cfg.anno.disease[1],cfg.annoY[0],cfg.annoH);
  stack(xL,cfg.anno.cohort[0],cfg.annoY[1],cfg.annoH);stack(xR,cfg.anno.cohort[1],cfg.annoY[1],cfg.annoH);
  g.append("rect").attr("x",xL(0)).attr("width",xL(cfg.anno.left)-xL(0)).attr("y",cfg.annoY[2]).attr("height",cfg.annoH).attr("fill",COL_BLUE);
  g.append("rect").attr("x",xR(0)).attr("width",xR(cfg.anno.right)-xR(0)).attr("y",cfg.annoY[2]).attr("height",cfg.annoH).attr("fill",COL_ORANGE);
  ["Disease","meta\u2212GEO Cohort","Cluster"].forEach((t,i)=>txt(cfg.labelX,cfg.annoY[i]+cfg.annoH/2+cfg.annoDy,t,cfg.annoFont,{bold:1}));
  cfg.rows.forEach((t,i)=>txt(cfg.labelX,rowY(i)+cfg.rowH/2+.5,t,cfg.labelFont));
  const h=d3.scaleLinear().domain([0,cfg.rootH]).range([cfg.xL[0],cfg.rootX]);
  const path=d3.path();
  const walk=n=>{
    if(typeof n==="number") return {x:h(0),y:rowY(n)+cfg.rowH/2};
    const a=walk(n[1]),b=walk(n[2]),x=h(n[0]);
    path.moveTo(a.x,a.y);path.lineTo(x,a.y);path.lineTo(x,b.y);path.lineTo(b.x,b.y);
    return {x,y:(a.y+b.y)/2};
  };
  walk(cfg.tree);
  g.append("path").attr("d",path.toString()).attr("fill","none").attr("stroke","#333").attr("stroke-width",1.2);
  const cb=cfg.bar, y=d3.scaleLinear().domain(cb.dom).range(cb.rng);
  const id=cfg.id+"grad", grad=svg.append("defs").append("linearGradient").attr("id",id).attr("x1",0).attr("x2",0).attr("y1",0).attr("y2",1);
  const frac=v=>(y(v)-cb.rng[0])/(cb.rng[1]-cb.rng[0]);
  [[cb.sat,COL_ORANGE],[0,"#FFFFFF"],[-cb.sat,COL_BLUE]].forEach(([v,c])=>grad.append("stop").attr("offset",frac(v)).attr("stop-color",c));
  g.append("rect").attr("x",cb.x).attr("width",cb.w).attr("y",cb.rng[0]).attr("height",cb.rng[1]-cb.rng[0]).attr("fill",`url(#${id})`);
  cb.ticks.forEach(v=>txt(cb.x+cb.w+7,y(v),(v<0?"\u2212":"")+Math.abs(v),cfg.barFont,{fill:"#222"}));
}
heatmap({id:"a",rows:immuneHeatRows,L:heatA_L,R:heatA_R,anno:annoA,tree:treeA,split:10,xL:[101.6,332],xR:[338,645.6],top1:110.7,top2:387.3,rowH:27.1,annoY:[53,72,91],annoH:16,annoDy:-.5,labelX:650,labelFont:18.65,annoFont:15.5,rootH:82.5,rootX:19.1,barFont:15,
 bar:{x:911,w:15,dom:[11.4,-11.3],rng:[52,286],sat:1.3,ticks:[10,5,0,-5,-10]}});
heatmap({id:"c",rows:heatRowsC,L:heatC_L,R:heatC_R,anno:annoC,tree:treeC,split:7,xL:[101,323],xR:[330.5,626],top1:872,top2:1019,rowH:19.95,annoY:[805,827,849],annoH:18.5,annoDy:.5,labelX:631.5,labelFont:18.25,annoFont:18.2,rootH:95.8,rootX:5.2,barFont:15,
 bar:{x:985,w:15,dom:[5.66,-5.67],rng:[802,1027],sat:1.3,ticks:[4,2,0,-2,-4]}});
function legendBlock(title,titleY,items,top){
  txt(919.5,titleY,title,23.3,{bold:1});
  items.forEach(([lab,col],i)=>{
    svg.append("rect").attr("x",920).attr("y",top+i*33.6).attr("width",34).attr("height",33.6).attr("fill",col);
    txt(959.5,top+i*33.6+17.5,lab,23.5,{fill:"#222"});
  });
}
legendBlock("Disease",364,[["CD",annoColor.CD],["UC",annoColor.UC]],380);
legendBlock("meta\u2212GEO Cohort",483,[["GSE112366",annoColor.GSE112366],["GSE87473",annoColor.GSE87473],["GSE92415",annoColor.GSE92415]],498.7);
legendBlock("Cluster",634,[["D.cluster1",COL_BLUE],["D.cluster2",COL_ORANGE]],650.7);

function boxPanel(c){
  const x=d3.scaleLinear().domain(c.xDom).range(c.xRng);
  const y=d3.scalePoint().domain(c.names).range(c.yRng);
  const g=svg.append("g");
  const series=[[c.blue,c.off,"#4F8ECE"],[c.orange,-c.off,"#F4683A"]];
  series.forEach(([data,off,col])=>{
    data.forEach((d,i)=>{
      const cy=y(c.names[i])+off, gg=g.append("g");
      const [q1,med,q3,lo,hi,outs]=d;
      gg.append("line").attr("x1",x(lo)).attr("x2",x(q1)).attr("y1",cy).attr("y2",cy).attr("stroke",col).attr("stroke-width",1.6);
      gg.append("line").attr("x1",x(q3)).attr("x2",x(hi)).attr("y1",cy).attr("y2",cy).attr("stroke",col).attr("stroke-width",1.6);
      gg.append("rect").attr("x",x(q1)).attr("y",cy-c.boxH/2).attr("width",x(q3)-x(q1)).attr("height",c.boxH).attr("fill","#fff").attr("stroke",col).attr("stroke-width",1.5);
      gg.append("line").attr("x1",x(med)).attr("x2",x(med)).attr("y1",cy-c.boxH/2).attr("y2",cy+c.boxH/2).attr("stroke",col).attr("stroke-width",2.2);
      gg.selectAll("circle").data(outs).join("circle").attr("cx",v=>x(v)).attr("cy",cy).attr("r",c.r).attr("fill",col);
    });
  });
  const ax=g.append("g").attr("transform",`translate(${c.xRng[0]},0)`).call(d3.axisLeft(y).tickSize(4).tickSizeOuter(0));
  ax.select(".domain").remove();
  ax.selectAll("line").attr("stroke","#222").attr("stroke-width",1.5);
  ax.selectAll("text").attr("font-size",c.yFont).attr("font-family","inherit").attr("fill","#111").attr("x",c.labelDx);
  const bx=g.append("g").attr("transform",`translate(0,${c.yBottom})`).call(d3.axisBottom(x).tickValues(c.ticks).tickFormat(c.fmt).tickSize(4).tickSizeOuter(0));
  bx.select(".domain").remove();
  bx.selectAll("line").attr("stroke","#222").attr("stroke-width",1.5);
  bx.selectAll("text").attr("font-size",c.xFont).attr("font-family","inherit").attr("fill","#111").attr("y",c.tickDy);
  g.append("path").attr("d",d3.line()([[c.xRng[0],c.yTop],[c.xRng[0],c.yBottom],[c.xRng[1],c.yBottom]])).attr("fill","none").attr("stroke","#222").attr("stroke-width",1.8);
  c.names.forEach((n,i)=>{
    const s=c.sig[i];
    svg.append("text").attr("x",c.sigX).attr("y",y(n)+(s==="ns"?-.3:c.sigDy)).attr("text-anchor","middle").attr("font-size",s==="ns"?15:c.starFont).attr("fill","#222").text(s);
  });
  txt(c.titleX,c.titleY,c.title,c.titleFont,{anchor:"middle"});
  if(c.yTitle) txt(c.yTitleX,c.yTitleY,c.yTitle,c.yTitleFont,{anchor:"middle",rot:-90,fill:"#222"});
  const L=c.leg;
  txt(L.titleX,L.y,"Cluster",L.titleFont,{fill:"#222"});
  [[L.k1,"#4F8ECE","D.cluster1",L.t1],[L.k2,"#F4683A","D.cluster2",L.t2]].forEach(([kx,col,lab,tx])=>{
    svg.append("line").attr("x1",kx+L.kw/2).attr("x2",kx+L.kw/2).attr("y1",L.y-L.kh/2-3).attr("y2",L.y+L.kh/2+3).attr("stroke",col).attr("stroke-width",1.4);
    svg.append("rect").attr("x",kx).attr("y",L.y-L.kh/2).attr("width",L.kw).attr("height",L.kh).attr("fill","#fff").attr("stroke",col).attr("stroke-width",1.4);
    svg.append("line").attr("x1",kx).attr("x2",kx+L.kw).attr("y1",L.y).attr("y2",L.y).attr("stroke",col).attr("stroke-width",1.6);
    txt(tx,L.y,lab,L.font,{fill:"#222"});
  });
}
boxPanel({names:bNames,orange:bOrange,blue:bBlue,sig:bSig,xDom:[-.031,.659],xRng:[1429.4,1763],yRng:[68,699],yTop:50,yBottom:716.7,off:6,boxH:11,r:3.3,yFont:16.7,xFont:16.6,tickDy:8,labelDx:-7,sigDy:-1.6,
 ticks:[0,.2,.4,.6],fmt:d3.format(".1f"),sigX:1748.4,starFont:14.6,title:"Infiltration Leverl",titleX:1596.5,titleY:750,titleFont:16.8,yTitle:"CIBERSORT Immune Cells",yTitleX:1185,yTitleY:384,yTitleFont:16.4,
 leg:{titleX:1467,y:14.5,titleFont:16.4,k1:1531,k2:1634,t1:1560,t2:1664,kw:19,kh:13,font:13.7}});
boxPanel({names:dNames,orange:dOrange,blue:dBlue,sig:dNames.map(()=>"***"),xDom:[-27.6,29.3],xRng:[1468,1801.5],yRng:[859.3,1778.3],yTop:847,yBottom:1789,off:4,boxH:7.5,r:3.3,yFont:17.9,xFont:17.7,tickDy:8,labelDx:-9.4,sigDy:-3.4,
 ticks:[-20,-10,0,10,20],fmt:d=>(d<0?"\u2212":"")+Math.abs(d),sigX:1751,starFont:15,title:"Metabolism Score",titleX:1616,titleY:1825,titleFont:17.7,
 leg:{titleX:1478,y:808,titleFont:17.6,k1:1546,k2:1655,t1:1578,t2:1687,kw:20,kh:14,font:14.6}});
</script></body></html>
